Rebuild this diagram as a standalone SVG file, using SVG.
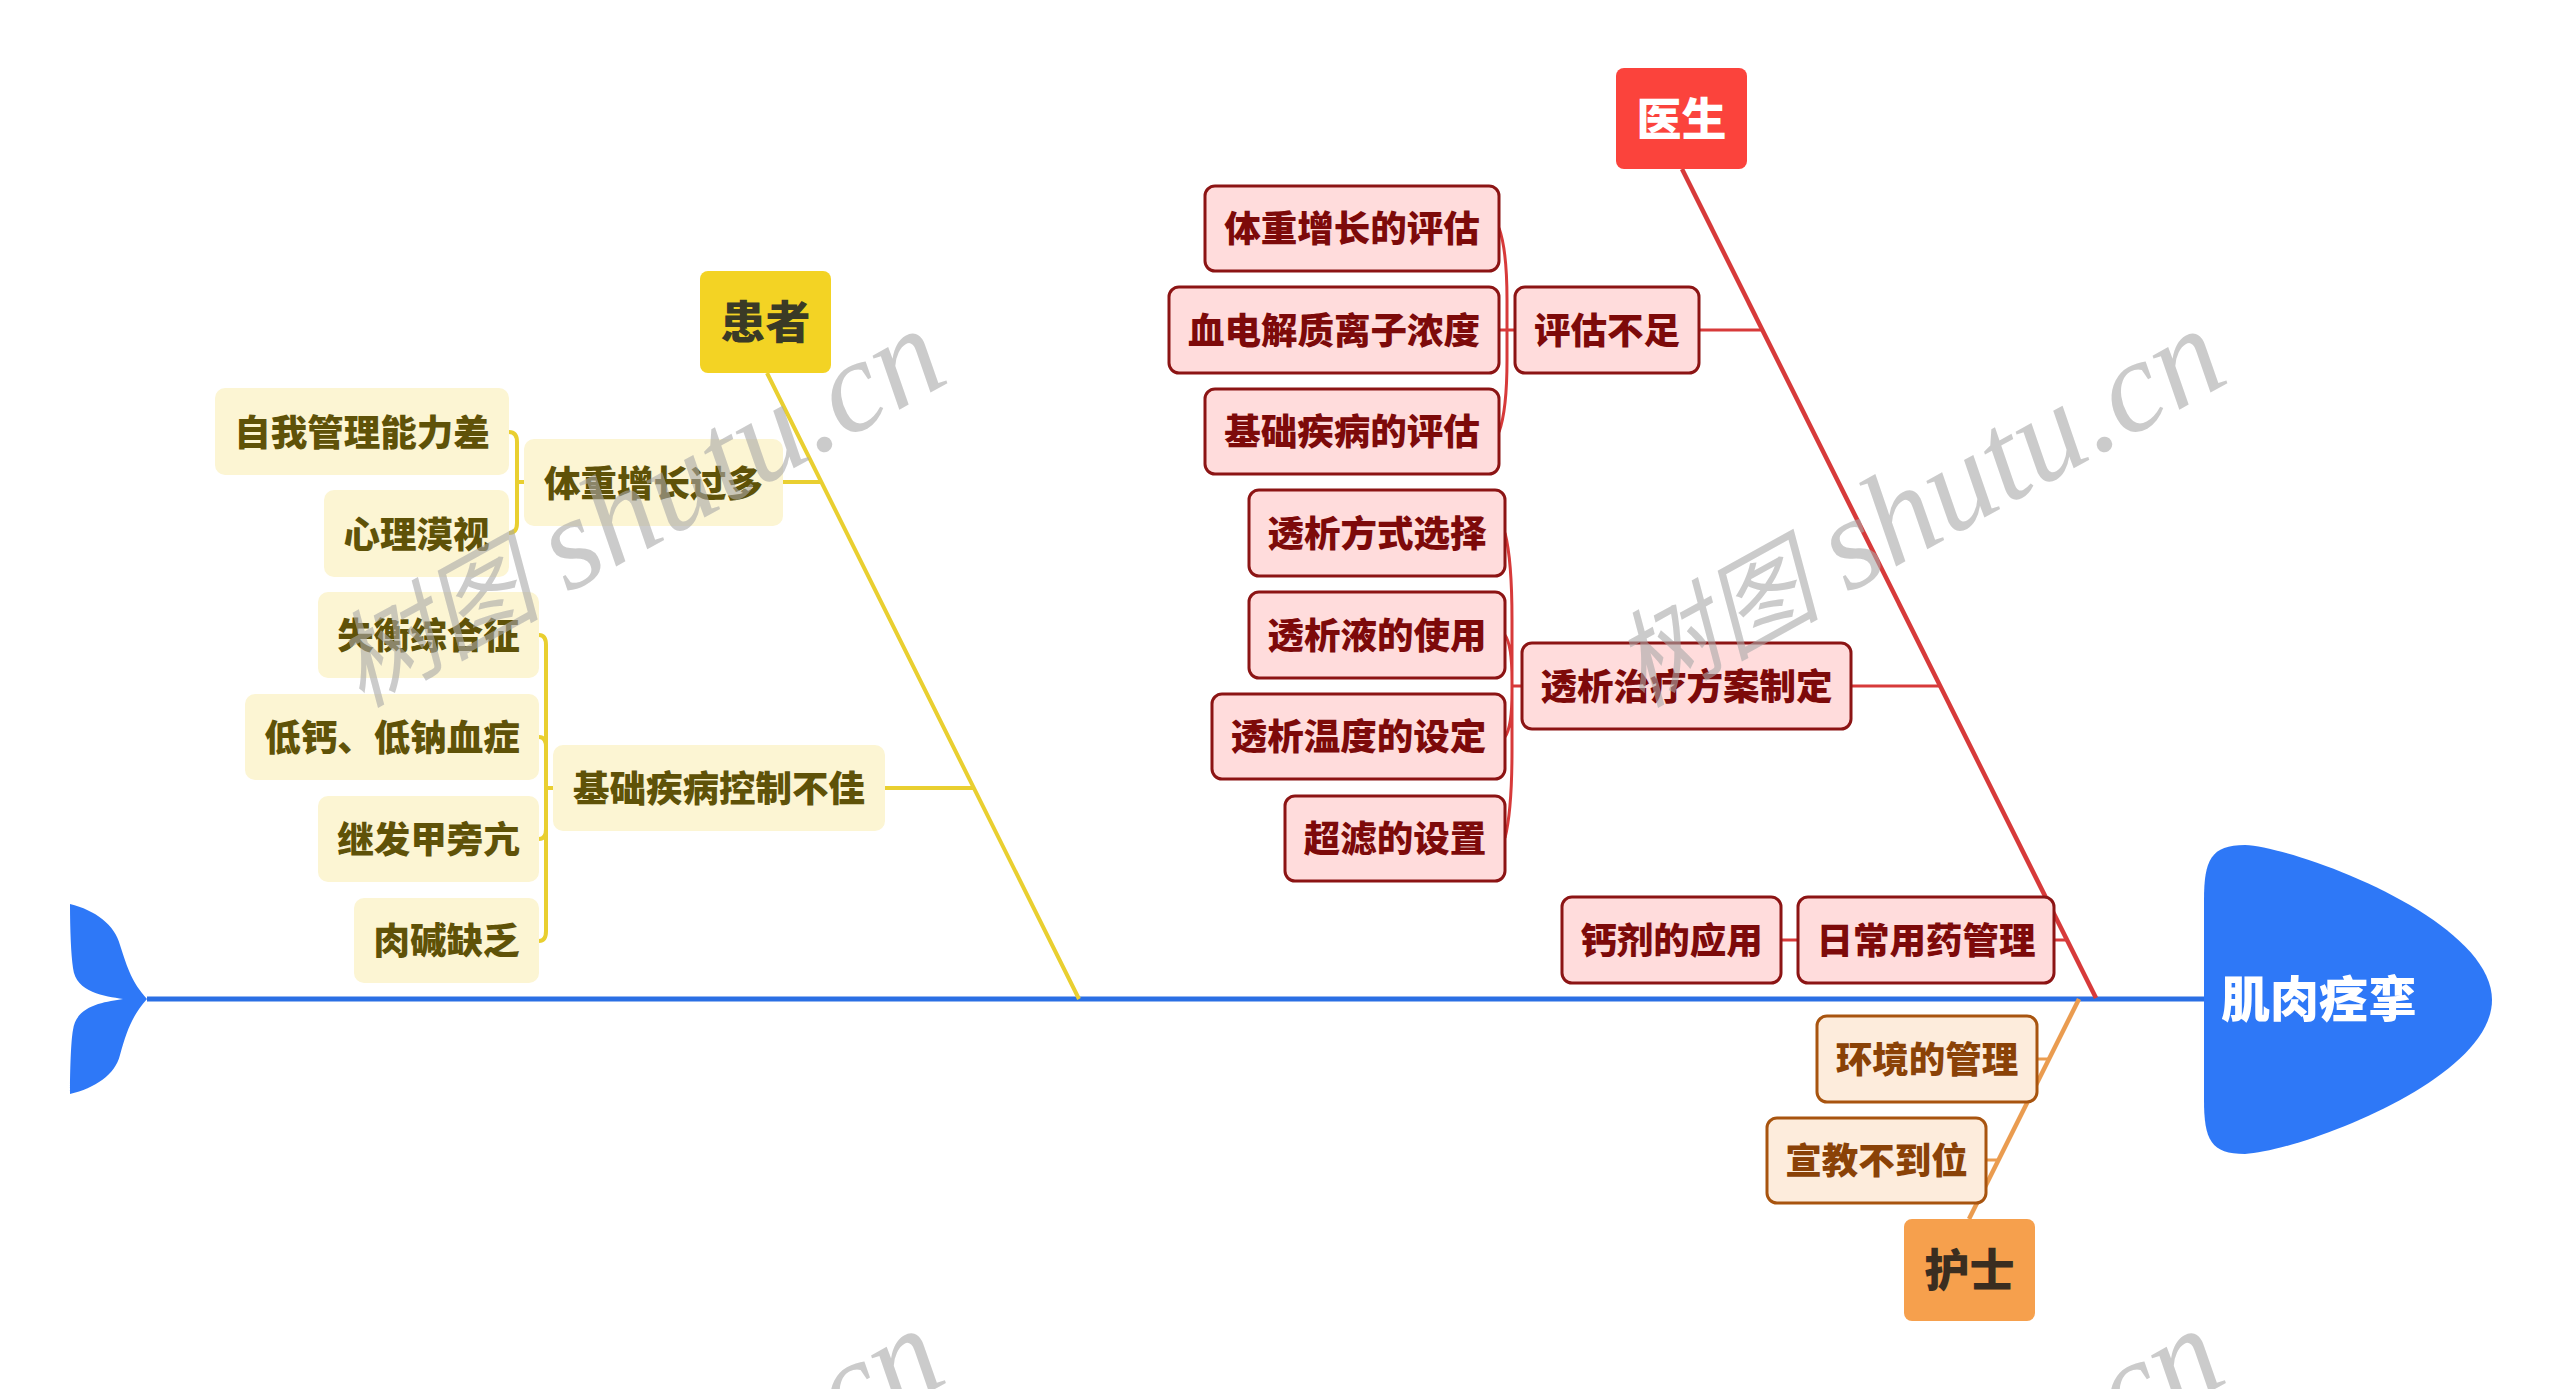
<svg xmlns="http://www.w3.org/2000/svg" width="2560" height="1389" viewBox="0 0 2560 1389">
<style>
text{font-family:"Noto Sans CJK SC","Noto Sans",sans-serif;font-weight:900;text-anchor:middle}
.y rect{fill:#fcf5d3}.y text{fill:#5f5208;font-size:36.500px}
.r rect{fill:#ffdcdc;stroke:#8c1414;stroke-width:3}.r text{fill:#7d0a0a;font-size:36.500px}
.o rect{fill:#fdecdc;stroke:#a8540f;stroke-width:3}.o text{fill:#8a4207;font-size:36.500px}
.t text{font-size:45px}
.ly{fill:none;stroke:#e9cf30;stroke-width:4}
.lr{fill:none;stroke:#d73a3a;stroke-width:3}
.lo{fill:none;stroke:#ea9c50;stroke-width:3}
.wm{font-family:"Liberation Serif",serif;font-style:italic;font-weight:400;font-size:131px;fill:#a8a8a8;fill-opacity:.6;text-anchor:start}
.wm .c{font-family:"Noto Sans CJK SC",serif;font-weight:400;font-size:104px}
</style>
<rect width="2560" height="1389" fill="#fff"/>
<g id="connectors">
<path d="M147 999H2205" fill="none" stroke="#2a6fe4" stroke-width="5"/>
<path class="ly" stroke-width="4.500" d="M767 373L1079 999M783 482H821M885 788H974"/>
<path class="ly" d="M509 432Q517 432 517 442V523Q517 533 509 533M517 482H524"/>
<path class="ly" d="M539 635Q546 635 546 645V931Q546 941 539 941M539 737Q546 737 546 747M539 839Q546 839 546 829M546 788H553"/>
<path class="lr" style="stroke-width:4.500" d="M1682 169L2096 998"/>
<path class="lr" d="M1699 330H1762M1851 686H1940M2054 940H2067M1781 940H1798"/>
<path class="lr" d="M1499 228Q1507 250 1507 300V360Q1507 410 1499 432M1499 330H1515"/>
<path class="lr" d="M1505 533Q1512 560 1512 620V750Q1512 810 1505 838M1505 635Q1512 645 1512 680M1505 737Q1512 727 1512 692M1512 686H1522"/>
<path class="lo" style="stroke-width:4.500" d="M1969 1219L2079 999"/>
<path class="lo" d="M2037 1059H2049M1986 1160H1998"/>
</g>
<g id="tail"><path d="M70 904C95 910 115 925 120 945C128 970 132 982 147 999C132 1016 127 1030 120 1055C115 1075 95 1088 70 1094C70 1070 71 1040 73 1030C76 1005 105 1002 123 999C105 996 76 993 73 968C71 955 70 930 70 904Z" fill="#2e78f7"/></g>
<g id="head"><path d="M2204 900C2204 860 2211 845 2245 845C2300 848 2492 920 2492 1000C2492 1080 2300 1151 2245 1154C2211 1154 2204 1140 2204 1100Z" fill="#2e78f7"/><text x="2319" y="1017" font-size="49" fill="#fff">肌肉痉挛</text></g>
<g id="n-patient" class="t"><rect x="700" y="271" width="131" height="102" rx="8" fill="#f3d324"/><text x="765.500" y="339" fill="#3a3a26">患者</text></g>
<g id="n-doctor" class="t"><rect x="1616" y="68" width="131" height="101" rx="8" fill="#fb433c"/><text x="1681.500" y="136" fill="#fff">医生</text></g>
<g id="n-nurse" class="t"><rect x="1904" y="1219" width="131" height="102" rx="8" fill="#f6a04d"/><text x="1969.500" y="1287" fill="#3a2d20">护士</text></g>
<g class="y">
<g id="y1"><rect x="215" y="388" width="294" height="87" rx="10"/><text x="362" y="446">自我管理能力差</text></g>
<g id="y2"><rect x="324" y="490" width="185" height="87" rx="10"/><text x="416.500" y="548">心理漠视</text></g>
<g id="y3"><rect x="524" y="439" width="259" height="87" rx="10"/><text x="653.500" y="497">体重增长过多</text></g>
<g id="y4"><rect x="318" y="592" width="221" height="86" rx="10"/><text x="428.500" y="649">失衡综合征</text></g>
<g id="y5"><rect x="245" y="694" width="294" height="86" rx="10"/><text x="392" y="751">低钙、低钠血症</text></g>
<g id="y6"><rect x="318" y="796" width="221" height="86" rx="10"/><text x="428.500" y="853">继发甲旁亢</text></g>
<g id="y7"><rect x="354" y="898" width="185" height="85" rx="10"/><text x="446.500" y="954">肉碱缺乏</text></g>
<g id="y8"><rect x="553" y="745" width="332" height="86" rx="10"/><text x="719" y="802">基础疾病控制不佳</text></g>
</g>
<g class="r">
<g id="r1"><rect x="1205" y="186" width="294" height="85" rx="10"/><text x="1352" y="242">体重增长的评估</text></g>
<g id="r2"><rect x="1169" y="287" width="330" height="86" rx="10"/><text x="1334" y="344">血电解质离子浓度</text></g>
<g id="r3"><rect x="1205" y="389" width="294" height="85" rx="10"/><text x="1352" y="445">基础疾病的评估</text></g>
<g id="r4"><rect x="1515" y="287" width="184" height="86" rx="10"/><text x="1607" y="344">评估不足</text></g>
<g id="r5"><rect x="1249" y="490" width="256" height="86" rx="10"/><text x="1377" y="547">透析方式选择</text></g>
<g id="r6"><rect x="1249" y="592" width="256" height="86" rx="10"/><text x="1377" y="649">透析液的使用</text></g>
<g id="r7"><rect x="1212" y="694" width="293" height="85" rx="10"/><text x="1358.500" y="750">透析温度的设定</text></g>
<g id="r8"><rect x="1285" y="796" width="220" height="85" rx="10"/><text x="1395" y="852">超滤的设置</text></g>
<g id="r9"><rect x="1522" y="643" width="329" height="86" rx="10"/><text x="1686.500" y="700">透析治疗方案制定</text></g>
<g id="r10"><rect x="1562" y="897" width="219" height="86" rx="10"/><text x="1671.500" y="954">钙剂的应用</text></g>
<g id="r11"><rect x="1798" y="897" width="256" height="86" rx="10"/><text x="1926" y="954">日常用药管理</text></g>
</g>
<g class="o">
<g id="o1"><rect x="1817" y="1016" width="220" height="86" rx="10"/><text x="1927" y="1073">环境的管理</text></g>
<g id="o2"><rect x="1767" y="1118" width="219" height="85" rx="10"/><text x="1876.500" y="1174">宣教不到位</text></g>
</g>
<g id="watermarks">
<text class="wm" transform="translate(361 708) rotate(-29)"><tspan class="c">树图</tspan><tspan dx="28">shutu.cn</tspan></text>
<text class="wm" transform="translate(1641 708) rotate(-29)"><tspan class="c">树图</tspan><tspan dx="28">shutu.cn</tspan></text>
<text class="wm" transform="translate(843 1440) rotate(-29)">cn</text>
<text class="wm" transform="translate(2123 1440) rotate(-29)">cn</text>
</g>
</svg>
